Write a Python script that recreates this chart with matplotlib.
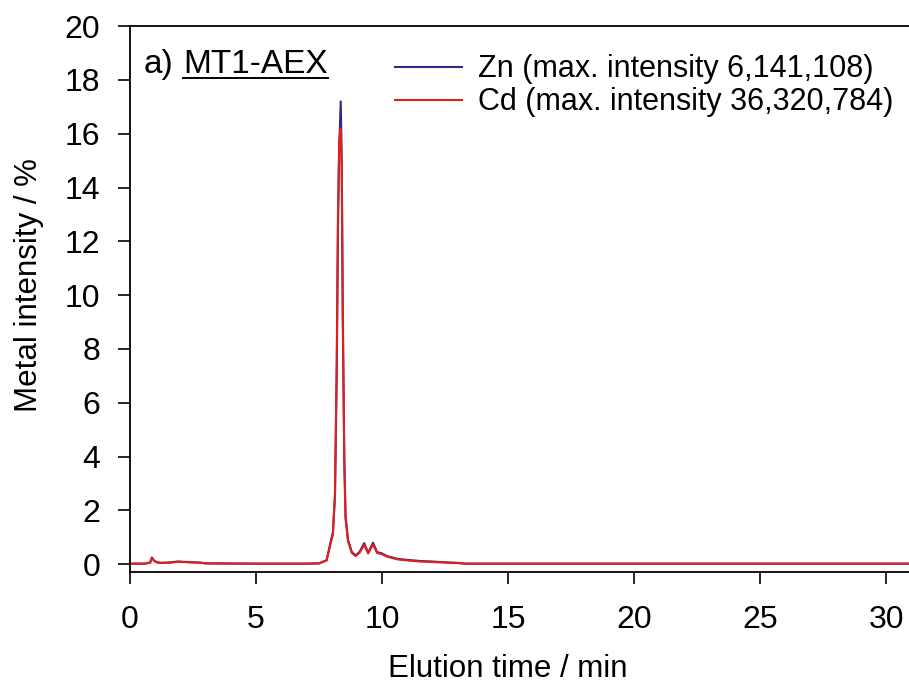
import matplotlib
matplotlib.use("Agg")
import matplotlib.pyplot as plt
from matplotlib.lines import Line2D
import numpy as np

plt.rcParams['font.family'] = ['Liberation Sans', 'DejaVu Sans']

# elution time (min) and metal intensity (%)
time = [0.0, 0.6, 0.8, 0.87, 0.95, 1.05, 1.2, 1.5, 1.9, 2.3, 2.8, 3.0,
        5.0, 7.0, 7.5, 7.8, 7.94, 8.05, 8.13, 8.2, 8.25, 8.3, 8.36, 8.4,
        8.44, 8.5, 8.55, 8.65, 8.8, 8.95, 9.1, 9.29, 9.45, 9.64, 9.8, 10.0,
        10.2, 10.6, 11.0, 11.5, 12.0, 12.5, 13.0, 13.3, 14.0, 20.0, 31.0]
zn = [0.02, 0.02, 0.06, 0.25, 0.14, 0.08, 0.05, 0.06, 0.1, 0.08, 0.06, 0.03,
      0.02, 0.02, 0.03, 0.15, 0.75, 1.2, 2.5, 7.0, 12.5, 15.5, 17.2, 15.0,
      9.5, 4.0, 1.8, 0.9, 0.45, 0.33, 0.45, 0.78, 0.42, 0.8, 0.45, 0.4,
      0.3, 0.2, 0.16, 0.12, 0.1, 0.07, 0.05, 0.02, 0.02, 0.02, 0.02]
cd = [0.02, 0.02, 0.06, 0.24, 0.13, 0.07, 0.05, 0.05, 0.09, 0.07, 0.05, 0.03,
      0.02, 0.02, 0.03, 0.14, 0.7, 1.1, 2.6, 7.5, 13.0, 15.8, 16.2, 14.5,
      9.0, 3.8, 1.7, 0.85, 0.42, 0.3, 0.42, 0.72, 0.4, 0.74, 0.42, 0.37,
      0.28, 0.18, 0.14, 0.1, 0.08, 0.06, 0.04, 0.02, 0.02, 0.02, 0.02]

labels = ['Zn (max. intensity 6,141,108)', 'Cd (max. intensity 36,320,784)']
colors = ['#2e2a86', '#e0201c']

fig = plt.figure(figsize=(9.09, 6.87), dpi=100)
ax = fig.add_axes([0.143, 0.167, 0.857, 0.795])

ax.plot(time, zn, color=colors[0], lw=1.5, label=labels[0])
ax.plot(time, cd, color=colors[1], lw=1.5, label=labels[1])

ax.set_xlim(0, 30.9)
ax.set_ylim(-0.3, 20)
ax.set_xticks(np.arange(0, 31, 5))
ax.set_yticks(np.arange(0, 21, 2))
ax.tick_params(axis='both', direction='out', length=8.5, width=1.2,
               labelsize=23)
ax.tick_params(axis='y', pad=13)
ax.tick_params(axis='x', pad=15)
ax.spines['right'].set_visible(False)
for s in ['left', 'bottom', 'top']:
    ax.spines[s].set_linewidth(1.3)

ax.set_xlabel('Elution time / min', size=22.5, va='top')
ax.set_ylabel('Metal intensity / %', size=22.5)
ax.xaxis.set_label_coords(0.485, -0.15)
ax.yaxis.set_label_coords(-0.11, 0.526)

ax.legend(loc='upper left', bbox_to_anchor=(0.4345, 0.921),
          bbox_transform=fig.transFigure, frameon=False, fontsize=22,
          handlelength=2.2, handletextpad=0.52, labelspacing=0.1,
          borderpad=0, borderaxespad=0)

ax.text(0.018, 0.958, 'a)', transform=ax.transAxes, size=24, va='top')
name = ax.text(0.068, 0.958, 'MT1-AEX', transform=ax.transAxes, size=24,
               va='top')

# underline the sample name
fig.canvas.draw()
bb = name.get_window_extent()
W, H = fig.get_size_inches() * fig.dpi
yy = (bb.y0 + 2) / H
fig.add_artist(Line2D([bb.x0 / W, bb.x1 / W], [yy, yy], color='black',
                      lw=1.4, transform=fig.transFigure))

fig.savefig('out.png', dpi=100)
